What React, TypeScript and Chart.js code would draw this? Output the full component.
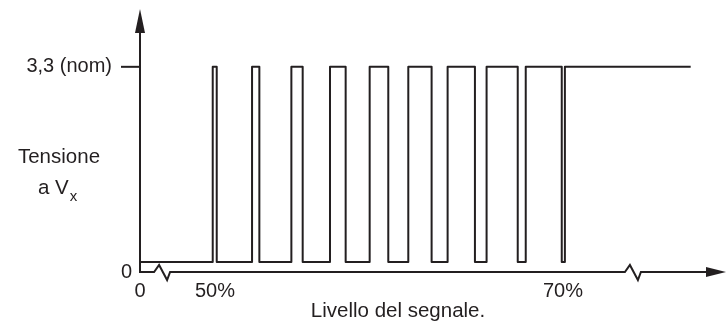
import React, { useEffect, useRef } from "react";
import { Chart, registerables } from "chart.js";

Chart.register(...registerables);

// Signal level (%) on a broken axis; axis origin "0" sits at X_MIN after the break
const X_MIN = 45.69;
const X_MAX = 79.37;
const Y_MIN = 0;
const Y_MAX = 4.23;

// Voltage levels (V)
const LOW_LEVEL = 0.16;
const HIGH_LEVEL = 3.3;

// Pulse edges (signal level %)
const riseEdges = [49.87, 52.13, 54.39, 56.61, 58.89, 61.11, 63.37, 65.61, 67.86];
const fallEdges = [50.1, 52.55, 55.04, 57.51, 59.96, 62.45, 64.94, 67.4, 69.93];
const finalRise = 70.11;
const traceEnd = 77.34;

// Axis ticks
const xTickValues = [X_MIN, 50, 70];
const xTickLabels = ["0", "50%", "70%"];
const yTickValues = [3.3, 0];
const yTickLabels = ["3,3 (nom)", "0"];

// Axis break positions (signal level %)
const xBreaks = [46.5, 73.56];

const INK = "#231f20";
const FONT = "Liberation Sans, Arial, Helvetica, sans-serif";

function buildPoints() {
  const pts: { x: number; y: number }[] = [{ x: X_MIN, y: LOW_LEVEL }];
  for (let i = 0; i < riseEdges.length; i++) {
    pts.push({ x: riseEdges[i], y: LOW_LEVEL });
    pts.push({ x: riseEdges[i], y: HIGH_LEVEL });
    pts.push({ x: fallEdges[i], y: HIGH_LEVEL });
    pts.push({ x: fallEdges[i], y: LOW_LEVEL });
  }
  pts.push({ x: finalRise, y: LOW_LEVEL });
  pts.push({ x: finalRise, y: HIGH_LEVEL });
  pts.push({ x: traceEnd, y: HIGH_LEVEL });
  return pts;
}

const axesPlugin = {
  id: "customAxes",
  afterDraw(chart: any) {
    const ctx = chart.ctx;
    const xs = chart.scales.x;
    const ys = chart.scales.y;
    const x0 = xs.getPixelForValue(X_MIN);
    const y0 = ys.getPixelForValue(0);
    const xEnd = xs.getPixelForValue(X_MAX);
    const yTop = ys.getPixelForValue(Y_MAX);
    ctx.save();
    ctx.strokeStyle = INK;
    ctx.fillStyle = INK;
    ctx.lineWidth = 2;
    ctx.lineJoin = "miter";

    // Y axis
    ctx.beginPath();
    ctx.moveTo(x0, y0);
    ctx.lineTo(x0, yTop + 22);
    ctx.stroke();
    ctx.beginPath();
    ctx.moveTo(x0, yTop);
    ctx.lineTo(x0 - 5, yTop + 24);
    ctx.lineTo(x0 + 5, yTop + 24);
    ctx.closePath();
    ctx.fill();

    // X axis with breaks
    ctx.beginPath();
    ctx.moveTo(x0 - 1, y0);
    for (const b of xBreaks) {
      const bx = xs.getPixelForValue(b);
      ctx.lineTo(bx, y0);
      ctx.lineTo(bx + 5, y0 - 7);
      ctx.lineTo(bx + 13, y0 + 8);
      ctx.lineTo(bx + 16, y0);
    }
    ctx.lineTo(xEnd - 18, y0);
    ctx.stroke();
    ctx.beginPath();
    ctx.moveTo(xEnd, y0);
    ctx.lineTo(xEnd - 20, y0 - 5);
    ctx.lineTo(xEnd - 20, y0 + 5);
    ctx.closePath();
    ctx.fill();

    // Y tick mark at 3.3
    const yNom = ys.getPixelForValue(3.3);
    ctx.beginPath();
    ctx.moveTo(x0 - 19, yNom);
    ctx.lineTo(x0, yNom);
    ctx.stroke();

    // Tick labels
    ctx.font = `20px ${FONT}`;
    ctx.textBaseline = "middle";
    ctx.textAlign = "right";
    ctx.fillText(yTickLabels[0], x0 - 28, ys.getPixelForValue(yTickValues[0]));
    ctx.fillText(yTickLabels[1], x0 - 8, ys.getPixelForValue(yTickValues[1]));
    ctx.textAlign = "center";
    xTickValues.forEach((v, i) => {
      ctx.fillText(xTickLabels[i], xs.getPixelForValue(v), y0 + 19);
    });

    // Axis titles
    ctx.textBaseline = "alphabetic";
    ctx.font = `20.5px ${FONT}`;
    ctx.textAlign = "center";
    ctx.fillText("Livello del segnale.", 398, 317);
    ctx.fillText("Tensione", 59, 163);
    ctx.textAlign = "left";
    ctx.fillText("a V", 38, 194);
    const w = ctx.measureText("a V").width;
    ctx.font = `15px ${FONT}`;
    ctx.fillText("x", 38 + w + 1, 201);
    ctx.restore();
  },
};

export default function App() {
  const ref = useRef<HTMLCanvasElement>(null);
  useEffect(() => {
    if (!ref.current) return;
    const chart = new Chart(ref.current, {
      type: "line",
      data: {
        datasets: [
          {
            data: buildPoints(),
            borderColor: INK,
            borderWidth: 2,
            pointRadius: 0,
            tension: 0,
            fill: false,
            clip: false as any,
            borderJoinStyle: "round",
          },
        ],
      },
      options: {
        responsive: false,
        animation: false,
        layout: { padding: { left: 140, right: 1, top: 9, bottom: 54 } },
        plugins: { legend: { display: false }, tooltip: { enabled: false } },
        scales: {
          x: { type: "linear", min: X_MIN, max: X_MAX, display: false },
          y: { type: "linear", min: Y_MIN, max: Y_MAX, display: false },
        },
      },
      plugins: [axesPlugin],
    });
    return () => chart.destroy();
  }, []);
  return (
    <canvas
      ref={ref}
      width={727}
      height={326}
      style={{ position: "absolute", left: 0, top: 0, width: 727, height: 326, background: "#fff" }}
    />
  );
}
